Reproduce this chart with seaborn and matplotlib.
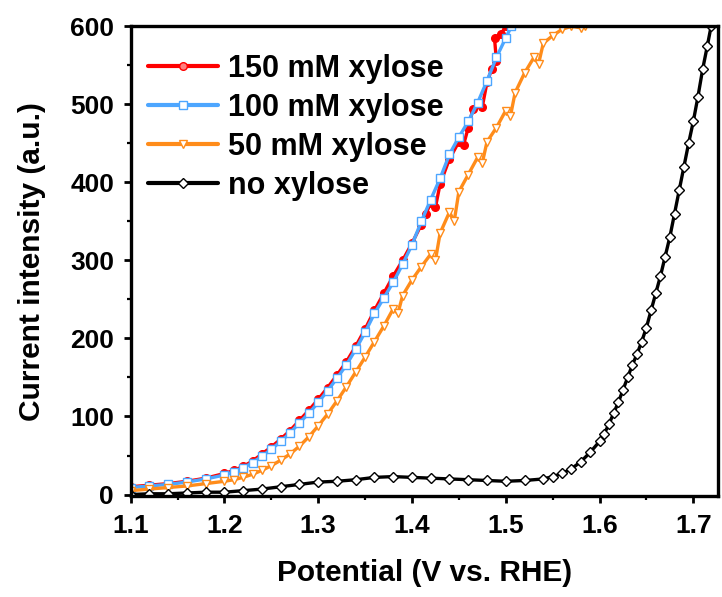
import matplotlib
matplotlib.use("Agg")
import matplotlib.pyplot as plt
import seaborn as sns
from matplotlib.ticker import MultipleLocator
from matplotlib.lines import Line2D

# ---------------- data ----------------
x150 = [1.10, 1.12, 1.14, 1.16, 1.18, 1.20, 1.21, 1.22, 1.23, 1.24, 1.25, 1.26, 1.27, 1.28,
        1.29, 1.30, 1.31, 1.32, 1.33, 1.34, 1.35, 1.36, 1.37, 1.38, 1.39, 1.40, 1.41, 1.415,
        1.42, 1.425, 1.43, 1.44, 1.45, 1.455, 1.46, 1.465, 1.47, 1.475, 1.48, 1.485, 1.49,
        1.488, 1.495, 1.50]
y150 = [10, 12, 14, 17, 21, 27, 31, 36, 43, 52, 61, 71, 82, 95,
        108, 122, 137, 153, 170, 190, 212, 236, 258, 280, 300, 322, 346, 360,
        374, 368, 398, 430, 452, 448, 470, 494, 500, 497, 528, 545, 556, 585, 590, 600]

x100 = [1.10, 1.12, 1.14, 1.16, 1.18, 1.20, 1.21, 1.22, 1.23, 1.24, 1.25, 1.26, 1.27, 1.28,
        1.29, 1.30, 1.31, 1.32, 1.33, 1.34, 1.35, 1.36, 1.37, 1.38, 1.39, 1.40, 1.41, 1.42,
        1.43, 1.44, 1.45, 1.46, 1.47, 1.48, 1.49, 1.50, 1.506]
y100 = [9, 11, 13, 16, 20, 25, 29, 34, 41, 49, 58, 68, 79, 92,
        104, 118, 133, 149, 166, 186, 208, 232, 252, 272, 295, 320, 350, 378,
        405, 436, 458, 478, 502, 530, 560, 585, 600]

x50 = [1.10, 1.12, 1.14, 1.16, 1.18, 1.20, 1.21, 1.22, 1.23, 1.24, 1.25, 1.26, 1.27, 1.28,
       1.29, 1.30, 1.31, 1.32, 1.33, 1.34, 1.35, 1.36, 1.37, 1.38, 1.385, 1.39, 1.40, 1.41,
       1.42, 1.425, 1.43, 1.44, 1.445, 1.45, 1.46, 1.47, 1.475, 1.48, 1.49, 1.50, 1.505,
       1.51, 1.52, 1.53, 1.535, 1.54, 1.55, 1.56, 1.57, 1.58, 1.585]
y50 = [5, 7, 9, 11, 14, 17, 19, 22, 26, 31, 37, 44, 52, 62,
       74, 88, 103, 120, 138, 157, 176, 196, 216, 238, 232, 255, 275, 292,
       308, 300, 335, 362, 350, 388, 410, 432, 425, 452, 470, 492, 485, 515, 540, 560, 552,
       578, 588, 596, 600, 598, 600]

x0 = [1.10, 1.12, 1.14, 1.16, 1.18, 1.20, 1.22, 1.24, 1.26, 1.28, 1.30, 1.32, 1.34, 1.36,
      1.38, 1.40, 1.42, 1.44, 1.46, 1.48, 1.50, 1.52, 1.54, 1.55, 1.56, 1.57, 1.58, 1.59,
      1.60, 1.605, 1.61, 1.615, 1.62, 1.625, 1.63, 1.635, 1.64, 1.645, 1.65, 1.655, 1.66,
      1.665, 1.67, 1.675, 1.68, 1.685, 1.69, 1.695, 1.70, 1.705, 1.71, 1.715, 1.719]
y0 = [0, 1, 1, 2, 3, 3, 5, 7, 10, 13, 16, 17, 19, 22,
      23, 22, 21, 20, 19, 18, 17, 18, 20, 23, 27, 33, 42, 54,
      68, 78, 90, 104, 118, 134, 150, 166, 180, 196, 214, 236, 258,
      280, 305, 330, 360, 390, 420, 450, 478, 510, 545, 575, 600]

series = [
    ("150 mM xylose", x150, y150, "#FF0000", "o", "#FF0000"),
    ("100 mM xylose", x100, y100, "#4DA6FF", "s", "white"),
    ("50 mM xylose", x50, y50, "#FF8C1A", "v", "white"),
    ("no xylose", x0, y0, "#000000", "D", "white"),
]

xticks = [1.1, 1.2, 1.3, 1.4, 1.5, 1.6, 1.7]
yticks = [0, 100, 200, 300, 400, 500, 600]

# ---------------- plot ----------------
sns.set_theme(style="ticks")
plt.rcParams["font.family"] = ["Liberation Sans", "DejaVu Sans"]
plt.rcParams["font.weight"] = "bold"
for k in ["text.color", "axes.labelcolor", "xtick.color", "ytick.color", "axes.edgecolor"]:
    plt.rcParams[k] = "black"

fig = plt.figure(figsize=(7.22, 5.97), dpi=100)
ax = fig.add_axes([0.181, 0.169, 0.813, 0.787])

handles = []
for label, xs, ys, col, mk, face in series:
    sns.lineplot(x=xs, y=ys, ax=ax, color=col, lw=2.4, marker=mk, markersize=5.5,
                 markerfacecolor=face, markeredgecolor=col, markeredgewidth=1.0,
                 sort=False, estimator=None)
    handles.append(Line2D([], [], color=col, lw=3.0, marker=mk, markersize=5.5,
                          markerfacecolor=face if face != "#FF0000" else "#FF8080",
                          markeredgecolor=col, markeredgewidth=1.0, label=label))

ax.set_xlim(1.1, 1.726)
ax.set_ylim(-2, 600)
ax.set_xticks(xticks)
ax.set_yticks(yticks)
ax.xaxis.set_minor_locator(MultipleLocator(0.05))
ax.yaxis.set_minor_locator(MultipleLocator(50))
ax.set_xticklabels([f"{v:.1f}" for v in xticks], fontsize=19, fontweight="bold")
ax.set_yticklabels([str(v) for v in yticks], fontsize=19, fontweight="bold")
ax.tick_params(axis="x", which="major", direction="out", length=5, width=2, pad=8,
               top=False)
ax.tick_params(axis="y", which="major", direction="out", length=5, width=2, pad=7,
               right=False)
ax.tick_params(axis="both", which="minor", direction="out", length=3, width=1.6,
               top=False, right=False)
for sp in ax.spines.values():
    sp.set_linewidth(2.4)
    sp.set_color("black")
    sp.set_visible(True)

ax.set_xlabel("Potential (V vs. RHE)", fontsize=21.5, fontweight="bold", labelpad=15)
ax.set_ylabel("Current intensity (a.u.)", fontsize=21.5, fontweight="bold", labelpad=17)

leg = ax.legend(handles=handles, loc="upper left", bbox_to_anchor=(0.029, 0.942),
                frameon=False, fontsize=22, handlelength=2.3, handletextpad=0.33,
                labelspacing=0.3, borderaxespad=0.0, borderpad=0.0)
for t in leg.get_texts():
    t.set_fontweight("bold")

fig.savefig("out.png", dpi=100)
